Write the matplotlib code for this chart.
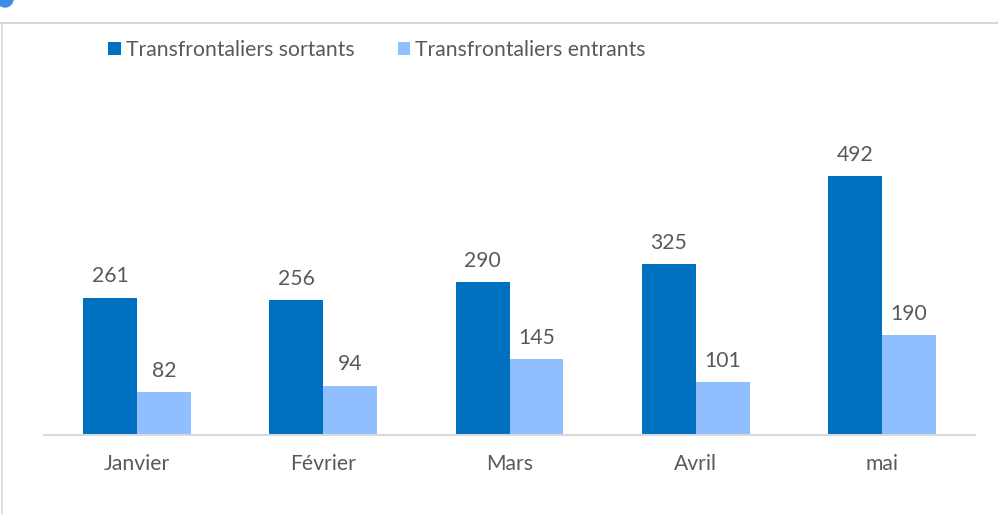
import numpy as np
import matplotlib
matplotlib.use("Agg")
import matplotlib.pyplot as plt
from matplotlib.patches import Circle
from matplotlib.lines import Line2D

months = ["Janvier", "Février", "Mars", "Avril", "mai"]
sortants = [261, 256, 290, 325, 492]
entrants = [82, 94, 145, 101, 190]
series_names = ["Transfrontaliers sortants", "Transfrontaliers entrants"]

dark = "#0070C0"
light = "#8FBFFF"
txt = "#595959"
grid = "#D9D9D9"
fs = 15.2

plt.rcParams['font.family'] = ['Lato', 'DejaVu Sans']

W, H = 998, 514
fig = plt.figure(figsize=(W / 100, H / 100), dpi=100)

# plot area in pixels
left, right, base, top = 44, 975, 435, 60
ax = fig.add_axes([left / W, (H - base) / H, (right - left) / W, (base - top) / H])

x = np.arange(len(months))
bw = 0.29
b1 = ax.bar(x - bw / 2, sortants, bw, color=dark, label=series_names[0])
b2 = ax.bar(x + bw / 2, entrants, bw, color=light, label=series_names[1])

for bars, vals in ((b1, sortants), (b2, entrants)):
    for b, v in zip(bars, vals):
        ax.annotate(str(v), (b.get_x() + b.get_width() / 2, v),
                    xytext=(0, 8), textcoords="offset points",
                    ha="center", va="bottom", fontsize=fs, color=txt)

ax.set_xlim(-0.5, len(months) - 0.5)
ax.set_ylim(0, (base - top) / (259 / 492))
ax.set_xticks(x)
ax.set_xticklabels(months, fontsize=fs, color=txt)
ax.tick_params(axis="x", length=0, pad=14)
ax.set_yticks([])
for s in ["top", "right", "left"]:
    ax.spines[s].set_visible(False)
ax.spines["bottom"].set_color(grid)
ax.spines["bottom"].set_linewidth(1.5)

leg = fig.legend(handles=[b1, b2], labels=series_names, loc="center left",
                 bbox_to_anchor=(108 / W, 1 - 50 / H), ncol=2, frameon=False,
                 fontsize=fs, handlelength=0.6, handleheight=0.6,
                 handletextpad=0.24, columnspacing=2.05,
                 borderpad=0, borderaxespad=0)
for t in leg.get_texts():
    t.set_color(txt)

# chart frame lines and the corner dot
fig.add_artist(Line2D([0, 1], [1 - 22.5 / H] * 2, color=grid, lw=1.5, transform=fig.transFigure))
fig.add_artist(Line2D([1.5 / W] * 2, [0, 1 - 22.5 / H], color=grid, lw=1.2, transform=fig.transFigure))
fig.add_artist(Circle((5, H + 1), 8, color="#3A8EE6", transform=None, clip_on=False))

fig.savefig("out.png", dpi=100)
